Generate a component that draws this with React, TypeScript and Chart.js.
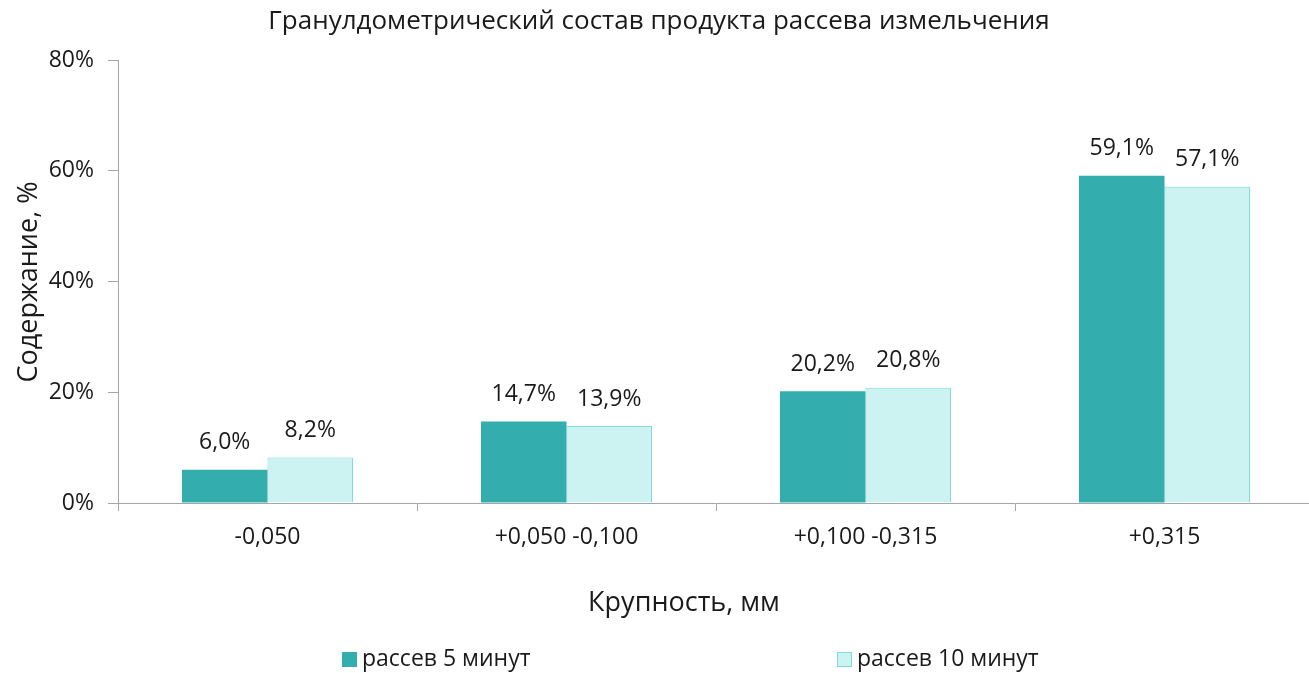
import React, { useEffect, useRef } from "react";
import { Chart, registerables } from "chart.js";

Chart.register(...registerables);

const categories = ["-0,050", "+0,050 -0,100", "+0,100 -0,315", "+0,315"];
const series5min = [6.0, 14.7, 20.2, 59.1];
const series10min = [8.2, 13.9, 20.8, 57.1];
const seriesNames = ["рассев 5 минут", "рассев 10 минут"];
const titleText = "Гранулдометрический состав продукта рассева измельчения";
const xTitle = "Крупность, мм";
const yTitle = "Содержание, %";

const FONT = "'Open Sans', 'Noto Sans', sans-serif";
const DARK = "#33adad";
const LIGHT = "#cdf2f2";
const LIGHT_BORDER = "#7fdddd";
const TEXT = "#1a1a1a";

const fmt = (v: number) => v.toFixed(1).replace(".", ",") + "%";

const decorPlugin = {
  id: "decor",
  afterDraw(chart: any) {
    const ctx = chart.ctx;
    ctx.save();
    ctx.fillStyle = TEXT;
    // title
    ctx.font = `26px ${FONT}`;
    ctx.textAlign = "center";
    ctx.textBaseline = "middle";
    ctx.fillText(titleText, 659, 22);
    // x title
    ctx.font = `27px ${FONT}`;
    ctx.fillText(xTitle, 684, 603);
    // y title
    ctx.save();
    ctx.translate(29, 282);
    ctx.rotate(-Math.PI / 2);
    ctx.fillText(yTitle, 0, 0);
    ctx.restore();
    // data labels
    ctx.font = `23px ${FONT}`;
    ctx.textBaseline = "middle";
    chart.data.datasets.forEach((ds: any, di: number) => {
      const meta = chart.getDatasetMeta(di);
      meta.data.forEach((bar: any, i: number) => {
        ctx.fillText(fmt(ds.data[i]), bar.x, bar.y - 27);
      });
    });
    // legend
    const legendY = 660;
    const items = [
      { x: 342, fill: DARK, stroke: DARK, label: seriesNames[0] },
      { x: 837, fill: LIGHT, stroke: LIGHT_BORDER, label: seriesNames[1] },
    ];
    ctx.font = `23px ${FONT}`;
    ctx.textAlign = "left";
    ctx.textBaseline = "middle";
    items.forEach((it) => {
      ctx.fillStyle = it.fill;
      ctx.fillRect(it.x, legendY - 8, 15, 15);
      ctx.strokeStyle = it.stroke;
      ctx.lineWidth = 1;
      ctx.strokeRect(it.x + 0.5, legendY - 7.5, 14, 14);
      ctx.fillStyle = TEXT;
      ctx.fillText(it.label, it.x + 20, legendY - 1);
    });
    ctx.restore();
  },
};

export default function App() {
  const ref = useRef<HTMLCanvasElement>(null);
  useEffect(() => {
    if (!ref.current) return;
    const chart = new Chart(ref.current, {
      type: "bar",
      data: {
        labels: categories,
        datasets: [
          {
            label: seriesNames[0],
            data: series5min,
            backgroundColor: DARK,
            borderColor: DARK,
            borderWidth: 0,
            categoryPercentage: 0.572,
            barPercentage: 1,
          },
          {
            label: seriesNames[1],
            data: series10min,
            backgroundColor: LIGHT,
            borderColor: LIGHT_BORDER,
            borderWidth: 1,
            categoryPercentage: 0.572,
            barPercentage: 1,
          },
        ],
      },
      options: {
        responsive: false,
        animation: false,
        layout: { padding: { top: 60, right: 0, left: 0, bottom: 0 } },
        plugins: {
          legend: { display: false },
          tooltip: { enabled: false },
          title: { display: false },
        },
        scales: {
          x: {
            grid: {
              offset: true,
              drawOnChartArea: false,
              drawTicks: true,
              tickLength: 8,
              color: "#a6a6a6",
            },
            border: { color: "#a6a6a6", width: 1 },
            ticks: {
              color: TEXT,
              font: { family: FONT, size: 23 },
              padding: 13,
              maxRotation: 0,
              autoSkip: false,
            },
            afterFit(scale: any) {
              scale.height = 170;
            },
          },
          y: {
            min: 0,
            max: 80,
            ticks: {
              stepSize: 20,
              color: TEXT,
              font: { family: FONT, size: 23 },
              padding: 14,
              callback: (v: any) => v + "%",
            },
            grid: {
              drawOnChartArea: false,
              drawTicks: true,
              tickLength: 10,
              color: "#a6a6a6",
            },
            border: { color: "#a6a6a6", width: 1 },
            afterFit(scale: any) {
              scale.width = 118;
            },
          },
        },
      },
      plugins: [decorPlugin],
    });
    return () => chart.destroy();
  }, []);
  return (
    <div style={{ position: "absolute", left: 0, top: 0, width: 1309, height: 673, overflow: "hidden", background: "#fff" }}>
      <canvas ref={ref} width={1314} height={673} style={{ display: "block" }} />
    </div>
  );
}
